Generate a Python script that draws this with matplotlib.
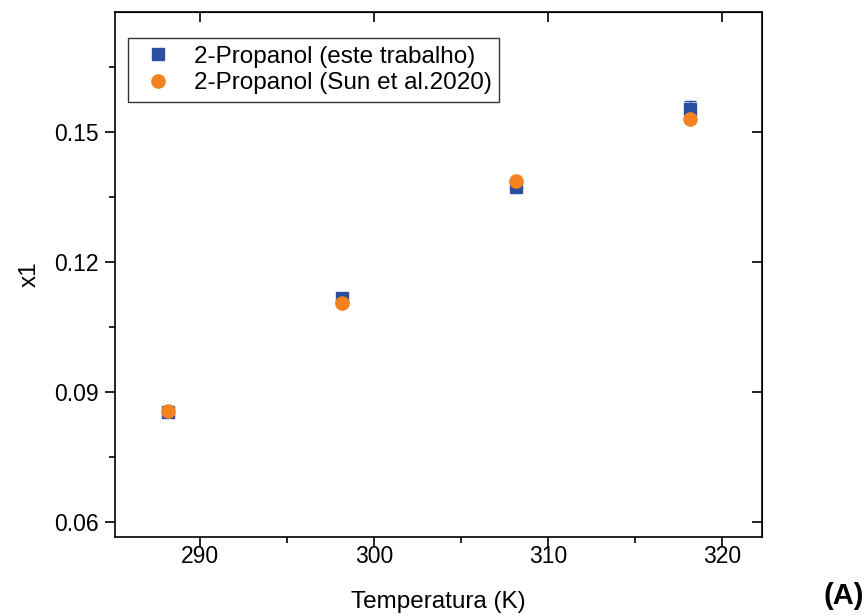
import numpy as np
import matplotlib.pyplot as plt
from matplotlib.ticker import MultipleLocator

plt.rcParams['font.family'] = ['Liberation Sans', 'DejaVu Sans']

temp = [288.15, 298.15, 308.15, 318.15]
x1_este = [0.0853, 0.1116, 0.1372, 0.1554]
err_este = [0.0006, 0.0005, 0.0004, 0.0017]
x1_sun = [0.0857, 0.1106, 0.1388, 0.1529]
err_sun = [0.0003, 0.0003, 0.0003, 0.0003]

blue = '#2a4ea0'
orange = '#f58220'

fig = plt.figure(figsize=(8.68, 6.15), dpi=100)
ax = fig.add_axes([0.1325, 0.1268, 0.7455, 0.8537])

ax.errorbar(temp, x1_este, yerr=err_este, fmt='s', color=blue, ms=8,
            capsize=4, elinewidth=1, capthick=1, label='2-Propanol (este trabalho)', zorder=3)
ax.errorbar(temp, x1_sun, yerr=err_sun, fmt='o', color=orange, ms=9.5,
            capsize=4, elinewidth=1, capthick=1, ecolor='#9a4a10',
            label='2-Propanol (Sun et al.2020)', zorder=4)

ax.set_xlim(285.1, 322.3)
ax.set_ylim(0.0565, 0.1777)
ax.xaxis.set_major_locator(MultipleLocator(10))
ax.xaxis.set_minor_locator(MultipleLocator(5))
ax.yaxis.set_major_locator(MultipleLocator(0.03))
ax.yaxis.set_minor_locator(MultipleLocator(0.015))
ax.yaxis.set_major_formatter(plt.FuncFormatter(lambda v, p: f'{v:.2f}'))

ax.tick_params(which='major', direction='out', length=7, width=1.2, labelsize=16.5, pad=5)
ax.tick_params(axis='x', which='major', pad=-1)
ax.tick_params(which='minor', direction='out', length=4, width=1.2)
for s in ax.spines.values():
    s.set_linewidth(1.2)

# mirrored major ticks pointing inward on top/right
top = ax.secondary_xaxis('top')
top.set_xticks([290, 300, 310, 320])
top.tick_params(direction='in', length=7, width=1.2, labeltop=False)
right = ax.secondary_yaxis('right')
right.set_yticks([0.06, 0.09, 0.12, 0.15])
right.tick_params(direction='in', length=7, width=1.2, labelright=False)

ax.set_xlabel('Temperatura (K)', fontsize=17.5, labelpad=16)
ax.set_ylabel('x1', fontsize=17.5, labelpad=9)

handles, labels = ax.get_legend_handles_labels()
handles = [h[0] for h in handles]
leg = ax.legend(handles, labels, loc='upper left', bbox_to_anchor=(0.02, 0.95),
                fontsize=17.5, frameon=True, fancybox=False, edgecolor='black',
                handletextpad=0.5, borderpad=0.3, labelspacing=0.2, handlelength=1.9,
                borderaxespad=0)
leg.get_frame().set_linewidth(1.0)

fig.text(0.995, 0.008, '(A)', fontsize=21, fontweight='bold', ha='right', va='bottom')

fig.savefig('out.png', dpi=100)
